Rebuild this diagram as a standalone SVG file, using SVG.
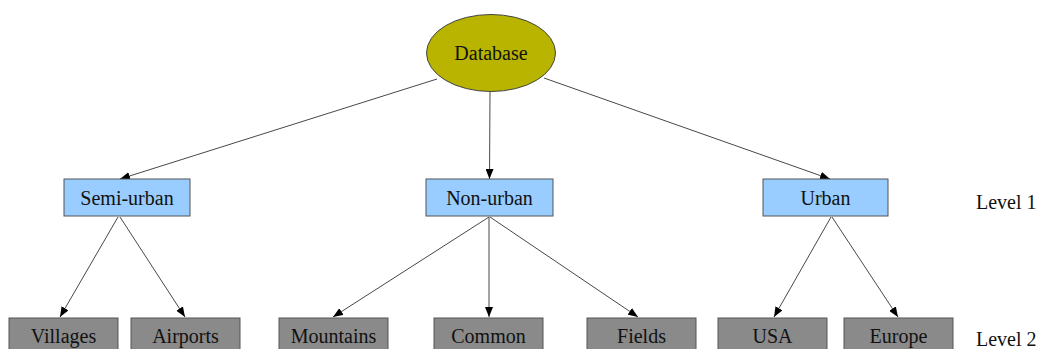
<svg xmlns="http://www.w3.org/2000/svg" width="1044" height="349" viewBox="0 0 1044 349">
<style>
text{font-family:'Liberation Serif','Times New Roman','DejaVu Serif',serif;font-size:20px;fill:#111;text-anchor:middle}
.l1{fill:#99ccff;stroke:#555;stroke-width:1}
.l2{fill:#8a8a8a;stroke:#555;stroke-width:1}
.e{stroke:#333;stroke-width:0.9;fill:none;marker-end:url(#ah)}
.lev{text-anchor:start}
</style>
<defs>
<marker id="ah" viewBox="0 0 10 8" refX="10" refY="4" markerWidth="10" markerHeight="8" markerUnits="userSpaceOnUse" orient="auto">
<path d="M0,0 L10,4 L0,8 z" fill="#000"/>
</marker>
</defs>
<g id="connectors">
<line class="e" x1="437" y1="79" x2="120" y2="179"/>
<line class="e" x1="490" y1="92" x2="489.5" y2="179"/>
<line class="e" x1="544" y1="78" x2="830" y2="179"/>
<line class="e" x1="118" y1="217" x2="60" y2="317"/>
<line class="e" x1="120" y1="217" x2="185" y2="317"/>
<line class="e" x1="489" y1="217" x2="333" y2="317"/>
<line class="e" x1="489" y1="217" x2="489" y2="317"/>
<line class="e" x1="490" y1="217" x2="638" y2="317"/>
<line class="e" x1="831" y1="217" x2="774" y2="317"/>
<line class="e" x1="832" y1="217" x2="898" y2="317"/>
</g>
<g font-family="Liberation Serif, serif">
<g id="database">
<ellipse cx="491" cy="53" rx="64.5" ry="38.5" fill="#b8b400" stroke="#444" stroke-width="1"/>
<text x="491" y="60">Database</text>
</g>
<g id="semi-urban">
<rect class="l1" x="64" y="179" width="126" height="37"/>
<text x="127" y="205">Semi-urban</text>
</g>
<g id="non-urban">
<rect class="l1" x="426" y="179" width="127" height="37"/>
<text x="489.5" y="205">Non-urban</text>
</g>
<g id="urban">
<rect class="l1" x="763" y="179" width="125" height="37"/>
<text x="825.5" y="205">Urban</text>
</g>
<g id="villages">
<rect class="l2" x="9" y="318" width="109" height="37"/>
<text x="63.5" y="343">Villages</text>
</g>
<g id="airports">
<rect class="l2" x="131" y="318" width="109" height="37"/>
<text x="185.5" y="343">Airports</text>
</g>
<g id="mountains">
<rect class="l2" x="279" y="318" width="109" height="37"/>
<text x="333.5" y="343">Mountains</text>
</g>
<g id="common">
<rect class="l2" x="434" y="318" width="109" height="37"/>
<text x="488.5" y="343">Common</text>
</g>
<g id="fields">
<rect class="l2" x="587" y="318" width="109" height="37"/>
<text x="641.5" y="343">Fields</text>
</g>
<g id="usa">
<rect class="l2" x="718" y="318" width="109" height="37"/>
<text x="772.5" y="343">USA</text>
</g>
<g id="europe">
<rect class="l2" x="844" y="318" width="109" height="37"/>
<text x="898.5" y="343">Europe</text>
</g>
<g id="levels">
<text class="lev" x="976" y="209">Level 1</text>
<text class="lev" x="976" y="346">Level 2</text>
</g>
</g>
</svg>
